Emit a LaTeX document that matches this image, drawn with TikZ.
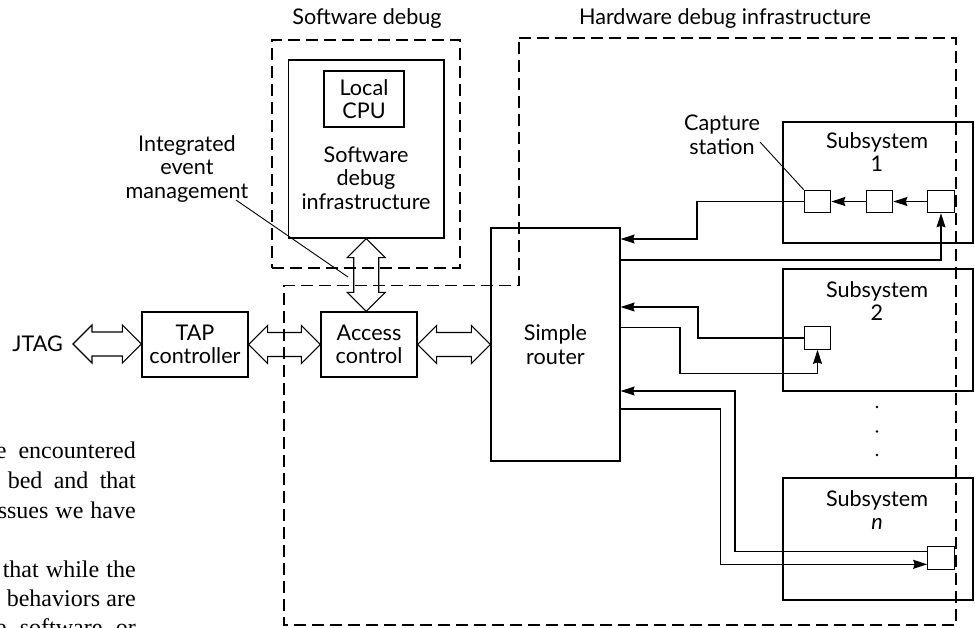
\documentclass[tikz,border=0pt]{standalone}
\usepackage{fontspec}
\newfontfamily\diagfont{Lato}
\newfontfamily\pagefont{Liberation Serif}
\usetikzlibrary{arrows.meta,calc}

% hollow double-headed arrows (head length 19, head half-width 19, shaft half-width 12)
\newcommand\hdbl[2]{%
  \draw[hollow] let \p1=(#1), \p2=(#2) in
    (\x1,\y1) -- (\x1+19pt,\y1+19pt) -- (\x1+19pt,\y1+12pt) -- (\x2-19pt,\y1+12pt)
    -- (\x2-19pt,\y1+19pt) -- (\x2,\y1) -- (\x2-19pt,\y1-19pt) -- (\x2-19pt,\y1-12pt)
    -- (\x1+19pt,\y1-12pt) -- (\x1+19pt,\y1-19pt) -- cycle;}
\newcommand\vdbl[2]{%
  \draw[hollow] let \p1=(#1), \p2=(#2) in
    (\x1,\y1) -- (\x1+19pt,\y1-19pt) -- (\x1+12.5pt,\y1-19pt) -- (\x1+12.5pt,\y2+19pt)
    -- (\x1+19pt,\y2+19pt) -- (\x1,\y2) -- (\x1-19pt,\y2+19pt) -- (\x1-12.5pt,\y2+19pt)
    -- (\x1-12.5pt,\y1-19pt) -- (\x1-19pt,\y1-19pt) -- cycle;}
% justified line of running text, set to a given width
\newcommand\pageline[2]{\makebox[#1][s]{#2}}

\begin{document}
\begin{tikzpicture}[x=1pt,y=-1pt,
  every node/.style={font=\diagfont\fontsize{21.6pt}{23.5pt}\selectfont, align=center, inner sep=0pt},
  box/.style={draw, line width=1.2pt},
  region/.style={draw, line width=1.1pt, dash pattern=on 12pt off 6pt},
  wire/.style={line width=1.1pt},
  arr/.style={wire, -{Stealth[length=14pt,width=9pt,inset=1.5pt]}},
  hollow/.style={draw, line width=1.1pt, line join=miter},
  pointer/.style={line width=0.9pt},
  booktext/.style={font=\pagefont\fontsize{24pt}{29pt}\selectfont, anchor=base east},
  station/.style={box, minimum width=26.5pt, minimum height=22.5pt}]

\useasboundingbox (0,0) rectangle (975,627);
\clip (0,0) rectangle (975,627);

% running text of the page beside the figure
\node[booktext] (bt1) at (136,458) {\pageline{140pt}{e encountered}};
\node[booktext] (bt2) at (136,488) {\pageline{128pt}{bed and that}};
\node[booktext] (bt3) at (136,518) {\pageline{138pt}{ssues we have}};
\node[booktext] (bt4) at (136,577) {\pageline{133pt}{that while the}};
\node[booktext] (bt5) at (136,606) {\pageline{129pt}{behaviors are}};
\node[booktext] (bt6) at (136,635) {\pageline{140pt}{e software or}};

% region titles
\node[anchor=base] (swtitle) at (367,24) {Software debug};
\node[anchor=base] (hwtitle) at (725,24) {Hardware debug infrastructure};

% software debug region
\node[region, minimum width=188pt, minimum height=228pt] (swregion) at (366,154) {};
\node[box, minimum width=155.5pt, minimum height=178pt] (swinfra) at (366.25,149) {};
\node[box, minimum width=80pt, minimum height=56pt] (cpu) at (364,99) {Local\\CPU};
\node (swtext) at (366,178) {Software\\debug\\infrastructure};

% hardware debug region
\draw[region] (519,38) -- (956,38) -- (956,625) -- (284,625) -- (284,285.5) -- (519,285.5) -- cycle;

% main chain
\node[anchor=east, inner xsep=10pt] (jtag) at (73,344) {JTAG};
\node[box, minimum width=106pt, minimum height=65pt] (tap) at (195,344.5) {TAP\\controller};
\node[box, minimum width=96pt, minimum height=65pt] (access) at (369,344.5) {Access\\control};
\node[box, minimum width=129pt, minimum height=233pt] (router) at (555.5,344.5) {Simple\\router};

\hdbl{jtag.east}{tap.west}
\hdbl{tap.east}{access.west}
\hdbl{access.east}{router.west}
\vdbl{swinfra.south}{swinfra.south |- access.north}

% integrated event management label
\node (ievt) at (187,169) {Integrated\\event\\management};
\coordinate (ievtfrom) at (236,200);
\coordinate (ievtto) at (348,277);
\draw[pointer] (ievtfrom) -- (ievtto);

% subsystems
\node[box, minimum width=190pt, minimum height=121pt] (sub1) at (878,182.5) {};
\node[box, minimum width=190pt, minimum height=122pt] (sub2) at (878,330) {};
\node[box, minimum width=190pt, minimum height=122pt] (subn) at (878,539) {};
\node (sub1t) at (877,152) {Subsystem\\1};
\node (sub2t) at (877,301) {Subsystem\\2};
\node (subnt) at (877,510) {Subsystem\\\textit{n}};

% dots between subsystems
\fill (877,407) circle (1.3pt);
\fill (877,431.5) circle (1.3pt);
\fill (877,455) circle (1.3pt);

% capture stations
\node[station] (cs1a) at (817.5,201.5) {};
\node[station] (cs1b) at (879.5,201.5) {};
\node[station] (cs1c) at (941,201.5) {};
\node[station] (cs2) at (817.5,338) {};
\node[station] (csn) at (941,558) {};

\node (caplbl) at (722,135) {Capture\\station};
\coordinate (capfrom) at (760,142);
\draw[pointer] (capfrom) -- (cs1a.north west);

% subsystem 1 wiring
\draw[arr] (cs1c.west) -- (cs1b.east);
\draw[arr] (cs1b.west) -- (cs1a.east);
\coordinate (k1) at (697,239);
\draw[arr] (cs1a.west) -| (k1) -- (router.east |- k1);
\coordinate (k2) at (620,260);
\draw[arr] (router.east |- k2) -| (cs1c.south);

% subsystem 2 wiring
\coordinate (k3) at (698,307);
\draw[arr] (cs2.west) -| (k3) -- (router.east |- k3);
\coordinate (k4) at (680,327.7);
\coordinate (k5) at (680,373.3);
\draw[arr] (router.east |- k4) -- (k4) -- (k5) -| (cs2.south);

% subsystem n wiring
\coordinate (k6) at (735,551.7);
\coordinate (k7) at (735,391);
\draw[arr] (csn.west |- k6) -- (k6) -- (k7) -- (router.east |- k7);
\coordinate (k8) at (720.7,409);
\coordinate (k9) at (720.7,564.3);
\draw[arr] (router.east |- k8) -- (k8) -- (k9) -- (csn.west |- k9);

\end{tikzpicture}
\end{document}
